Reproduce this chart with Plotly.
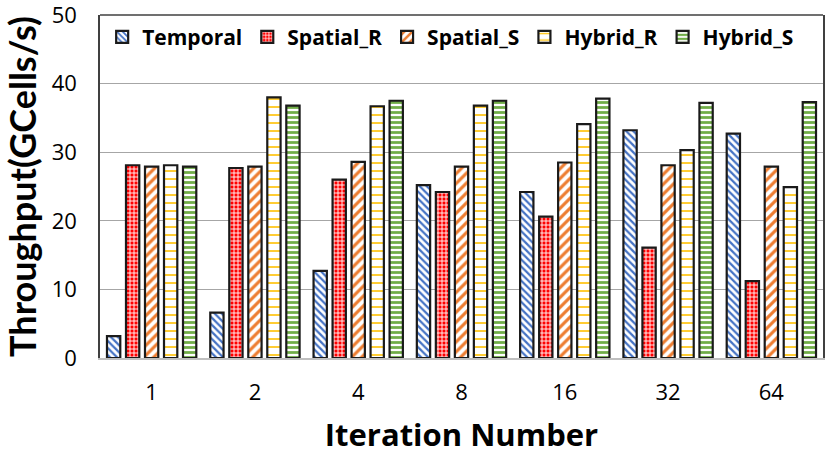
import plotly.graph_objects as go

categories = ["1", "2", "4", "8", "16", "32", "64"]
temporal = [3.2, 6.6, 12.7, 25.2, 24.2, 33.2, 32.7]
spatial_r = [28.1, 27.7, 26.0, 24.2, 20.6, 16.1, 11.2]
spatial_s = [27.9, 27.9, 28.6, 27.9, 28.5, 28.1, 27.9]
hybrid_r = [28.1, 38.0, 36.7, 36.8, 34.1, 30.3, 24.9]
hybrid_s = [27.9, 36.8, 37.5, 37.5, 37.8, 37.2, 37.3]

series = [
    ("Temporal", temporal, dict(shape="\\", bgcolor="white", fgcolor="#4472C4", size=5, solidity=0.45)),
    ("Spatial_R", spatial_r, dict(shape="+", bgcolor="#FF0000", fgcolor="white", size=4, solidity=0.4)),
    ("Spatial_S", spatial_s, dict(shape="/", bgcolor="white", fgcolor="#ED7D31", size=7, solidity=0.45)),
    ("Hybrid_R", hybrid_r, dict(shape="-", bgcolor="white", fgcolor="#FFC000", size=8, solidity=0.2)),
    ("Hybrid_S", hybrid_s, dict(shape="-", bgcolor="white", fgcolor="#70AD47", size=5, solidity=0.55)),
]

fig = go.Figure()
for name, vals, pat in series:
    fig.add_trace(go.Bar(
        name=name, x=categories, y=vals,
        marker=dict(color="white", line=dict(color="#1a1a1a", width=2.2), pattern=dict(fillmode="replace", **pat)),
    ))

wide = "Open Sans, sans-serif"
fig.update_layout(
    width=830, height=455,
    margin=dict(l=100, r=7, t=15, b=97),
    paper_bgcolor="white", plot_bgcolor="white",
    barmode="group", bargap=0.08, bargroupgap=0.3,
    font=dict(family=wide, color="#000000"),
    showlegend=True,
    legend=dict(orientation="h", x=0.003, y=0.995, xanchor="left", yanchor="top",
                font=dict(size=21, family=wide, weight="bold"),
                bgcolor="rgba(0,0,0,0)", itemwidth=30, tracegroupgap=0),
    xaxis=dict(
        type="category", automargin=False,
        title=dict(text="Iteration Number", font=dict(size=31, family=wide, weight="bold"), standoff=23),
        tickfont=dict(size=22), showline=True, linecolor="#bfbfbf", linewidth=1.5,
        ticks="", showgrid=False, ticklabelstandoff=14,
    ),
    yaxis=dict(
        range=[0, 50], tickvals=[0, 10, 20, 30, 40, 50], automargin=False,
        title=dict(text="Throughput(GCells/s)", font=dict(size=36, family="Lato, sans-serif", weight="bold"), standoff=8),
        tickfont=dict(size=22), showgrid=True, gridcolor="#a6a6a6", gridwidth=1.2,
        showline=True, linecolor="#404040", linewidth=1.5, mirror=True, zeroline=False,
        ticks="", ticklabelstandoff=17, ticklabeloverflow="allow",
    ),
    shapes=[dict(type="line", xref="paper", yref="paper", x0=0, x1=1, y0=1, y1=1,
                 line=dict(color="#404040", width=1.5))],
)

fig.write_html("out.html", config={"displayModeBar": False},
               post_script="document.body.style.margin='0';")
